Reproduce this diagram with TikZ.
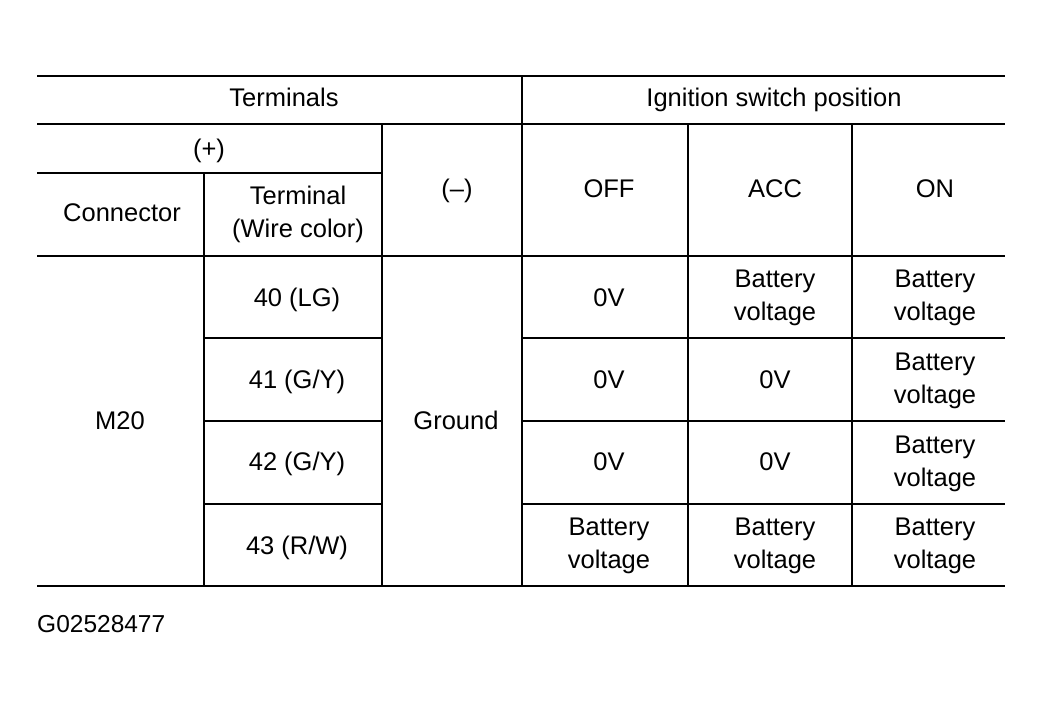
\documentclass[tikz,border=0pt]{standalone}
\usepackage{fontspec}
\setmainfont{Liberation Sans}
\newcommand\cellstrut{\rule[-6pt]{0pt}{30pt}}
\begin{document}
\begin{tikzpicture}[x=1pt,y=-1pt,
  cell/.style={align=center,inner sep=0pt,font=\fontsize{25.5}{32.5}\selectfont,
    execute at begin node=\cellstrut, execute at end node=\cellstrut},
  thick rule/.style={line width=2.6pt},
  rule/.style={line width=1.6pt},
  thin rule/.style={line width=1.2pt}]
\useasboundingbox (0,0) rectangle (1044,707);
% rules
\draw[thick rule] (37,76) -- (1005,76);
\draw[thick rule] (37,586) -- (1005,586);
\draw[rule] (37,124) -- (1005,124);
\draw[rule] (37,256) -- (1005,256);
\draw[thin rule] (37,173) -- (382,173);
\foreach \y in {338,421,504}{
  \draw[thin rule] (204,\y) -- (382,\y);
  \draw[thin rule] (522,\y) -- (1005,\y);
}
\draw[thin rule] (204,173) -- (204,586);
\draw[rule] (382,124) -- (382,586);
\draw[rule] (522,76) -- (522,586);
\draw[thin rule] (688,124) -- (688,586);
\draw[thin rule] (852,124) -- (852,586);
% header texts
\node[cell] (terminals) at (284,97) {Terminals};
\node[cell] (ign) at (774,97) {Ignition switch position};
\node[cell] (plus) at (209,148) {(+)};
\node[cell] (conn) at (122,212) {Connector};
\node[cell] (term) at (298,215) {Terminal\\(Wire color)};
\node[cell] (minus) at (457,188) {(–)};
\node[cell] (off) at (609,188) {OFF};
\node[cell] (acc) at (775,188) {ACC};
\node[cell] (on) at (935,188) {ON};
% body
\node[cell] (m20) at (120,420) {M20};
\node[cell] (gnd) at (456,420) {Ground};
\node[cell] (t40) at (297,297) {40 (LG)};
\node[cell] (t41) at (297,379) {41 (G/Y)};
\node[cell] (t42) at (297,461) {42 (G/Y)};
\node[cell] (t43) at (297,545) {43 (R/W)};
\node[cell] (o40) at (609,297) {0V};
\node[cell] (o41) at (609,379) {0V};
\node[cell] (o42) at (609,461) {0V};
\node[cell] (o43) at (609,546) {Battery\\voltage};
\node[cell] (a40) at (775,298) {Battery\\voltage};
\node[cell] (a41) at (775,379) {0V};
\node[cell] (a42) at (775,461) {0V};
\node[cell] (a43) at (775,546) {Battery\\voltage};
\node[cell] (n40) at (935,298) {Battery\\voltage};
\node[cell] (n41) at (935,381) {Battery\\voltage};
\node[cell] (n42) at (935,464) {Battery\\voltage};
\node[cell] (n43) at (935,546) {Battery\\voltage};
% figure code
\node[cell,anchor=west,font=\fontsize{24.5}{30}\selectfont] (code) at (37,623) {G02528477};
\end{tikzpicture}
\end{document}
